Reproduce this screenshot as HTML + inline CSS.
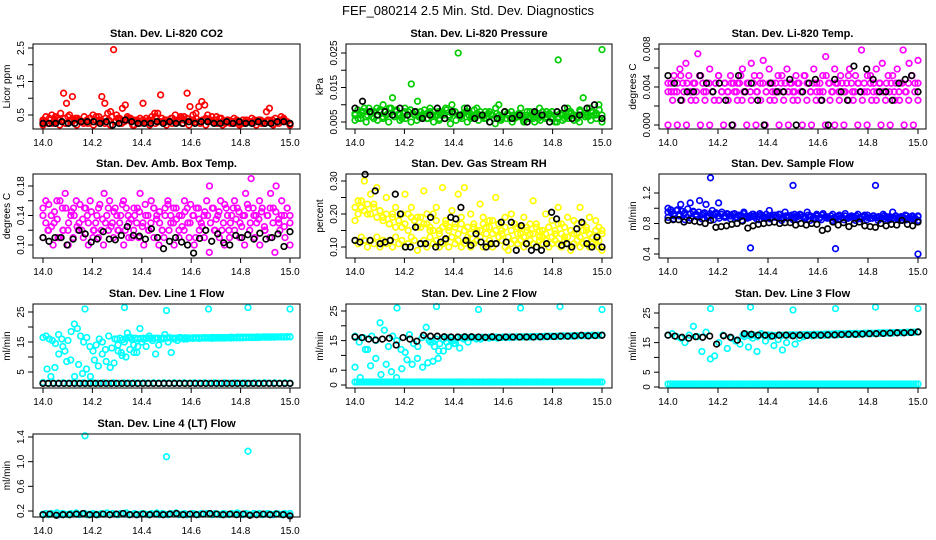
<!DOCTYPE html>
<html><head><meta charset="utf-8"><style>
html,body{margin:0;padding:0;background:#fff;}
svg{display:block;font-family:"Liberation Sans",Arial,sans-serif;}
</style></head><body>
<svg id="chart" width="936" height="540" viewBox="0 0 936 540" xmlns="http://www.w3.org/2000/svg">
<rect width="936" height="540" fill="#fff"/>
<text x="468" y="15" text-anchor="middle" font-size="13">FEF_080214  2.5 Min. Std. Dev. Diagnostics</text>
</svg>
<script>
// ---------- data ----------
const xTicks = [14.0,14.2,14.4,14.6,14.8,15.0];
const co2Red = [0.3,0.45,0.25,0.5,0.35,0.4,0.55,1.15,0.85,0.5,1.05,0.4,0.35,0.3,0.45,0.3,0.4,0.5,0.35,0.45,1.05,0.85,0.55,0.6,2.45,0.5,0.4,0.7,0.8,0.4,0.3,0.2,0.35,0.4,0.85,0.3,0.35,0.45,0.55,0.55,1.1,0.3,0.35,0.3,0.4,0.5,0.35,0.4,0.45,1.15,0.75,0.5,0.55,0.75,0.9,0.8,0.5,0.35,0.3,0.45,0.4,0.3,0.25,0.35,0.3,0.4,0.3,0.25,0.35,0.3,0.3,0.4,0.35,0.3,0.35,0.3,0.6,0.7,0.35,0.4,0.3,0.45,0.35,0.3,0.2];
const co2RedLow = [0.2,0.25,0.3,0.2,0.25,0.35,0.2,0.3,0.25,0.2,0.3,0.25,0.2,0.3,0.25,0.35,0.2,0.25,0.3,0.2,0.25,0.3,0.2,0.25,0.3,0.25,0.2,0.3,0.25,0.2,0.3,0.25,0.2,0.3,0.25,0.2,0.25,0.3,0.2,0.25,0.3,0.2,0.25,0.3,0.2];
const co2RedMid = [0.35,0.3,0.4,0.25,0.45,0.35,0.3,0.4,0.45,0.3,0.35,0.4,0.3,0.25,0.35,0.4,0.3,0.45,0.35,0.3,0.4,0.35,0.45,0.3,0.4,0.35,0.3,0.45,0.4,0.35,0.3,0.25,0.35,0.4,0.3,0.35,0.45,0.3,0.4,0.35,0.3,0.4,0.35,0.3,0.45,0.35,0.4,0.3,0.35,0.4,0.3,0.35,0.4,0.3,0.45,0.35,0.3,0.4,0.3,0.35,0.25,0.3,0.35,0.3,0.25,0.35,0.3,0.25,0.3,0.35,0.3,0.25,0.35,0.3,0.25,0.3,0.35,0.4,0.3,0.25];
const co2Black = [0.25,0.25,0.25,0.3,0.25,0.25,0.3,0.3,0.3,0.25,0.3,0.2,0.25,0.35,0.3,0.25,0.25,0.25,0.3,0.25,0.3,0.25,0.25,0.3,0.25,0.3,0.3,0.25,0.25,0.3,0.25,0.3,0.25,0.25,0.3,0.25,0.25,0.3,0.3,0.25];
const presGreen = [0.007,0.006,0.008,0.009,0.007,0.008,0.006,0.009,0.008,0.01,0.007,0.009,0.012,0.008,0.007,0.006,0.009,0.008,0.016,0.007,0.011,0.008,0.007,0.006,0.009,0.008,0.007,0.006,0.008,0.009,0.007,0.01,0.008,0.025,0.007,0.009,0.008,0.006,0.007,0.009,0.008,0.007,0.006,0.008,0.007,0.009,0.01,0.006,0.008,0.007,0.008,0.006,0.007,0.009,0.005,0.007,0.008,0.006,0.007,0.009,0.008,0.006,0.007,0.008,0.005,0.023,0.007,0.006,0.009,0.008,0.007,0.006,0.008,0.012,0.007,0.009,0.008,0.007,0.01,0.026];
const presGreenLow = [0.0055,0.006,0.005,0.0065,0.0055,0.006,0.005,0.0065,0.0055,0.006,0.005,0.0055,0.0065,0.006,0.005,0.0055,0.006,0.0045,0.0055,0.006,0.005,0.0065,0.0055,0.006,0.005,0.0045,0.0055,0.006,0.005,0.0065,0.0055,0.006,0.005,0.0055,0.0065,0.006,0.005,0.0055,0.006,0.0055,0.005,0.0065,0.0055,0.006,0.005];
const presGreenMid = [0.0075,0.0085,0.007,0.008,0.0065,0.009,0.0075,0.008,0.007,0.0085,0.0065,0.008,0.0075,0.009,0.007,0.0085,0.0075,0.0065,0.008,0.007,0.0085,0.0075,0.008,0.0065,0.007,0.0085,0.0075,0.008,0.007,0.0065,0.008,0.0075,0.007,0.0085,0.0065,0.0075,0.008,0.007,0.0065,0.0075,0.008,0.007,0.0065,0.0085,0.0075,0.007,0.0065,0.008,0.0075,0.007,0.006,0.0075,0.007,0.0065,0.008,0.0075,0.006,0.007,0.0065,0.0075,0.007,0.006,0.008,0.0065,0.007,0.0075,0.006,0.0065,0.007,0.008,0.0075,0.0065,0.007,0.006,0.0075,0.007,0.0065,0.008,0.0075,0.007,0.0065,0.0085,0.007,0.0075,0.0065,0.008,0.007,0.0075,0.0085,0.007];
const presBlack = [0.009,0.011,0.008,0.007,0.008,0.007,0.009,0.007,0.008,0.006,0.007,0.009,0.006,0.008,0.007,0.009,0.006,0.007,0.005,0.006,0.008,0.006,0.007,0.005,0.008,0.007,0.005,0.008,0.009,0.006,0.007,0.009,0.01,0.006];
const tempMagA = [0.0035,0.0044,0.0052,0.0035,0.0059,0.0044,0.0065,0.0052,0.0035,0.0044,0.0075,0.0052,0.0035,0.0044,0.0059,0.0035,0.0044,0.0052,0.0035,0.0044,0.0035,0.0052,0.0044,0.0035,0.0044,0.0059,0.0035,0.0044,0.0065,0.0052,0.0035,0.0044,0.0068,0.0035,0.0059,0.0044,0.0035,0.0052,0.0044,0.0035,0.0059,0.0044,0.0035,0.0052,0.0044,0.0035,0.0052,0.0044,0.0035,0.0059,0.0044,0.0035,0.0052,0.0072,0.0044,0.0035,0.0059,0.0044,0.0052,0.0035,0.0044,0.0059,0.0035,0.0052,0.0044,0.0079,0.0035,0.0052,0.0044,0.0035,0.0059,0.0044,0.0065,0.0035,0.0052,0.0044,0.0035,0.0059,0.0044,0.0079,0.0035,0.0065,0.0052,0.0044,0.0068];
const tempMagC = [0.0044,0.0035,0.0035,0.0044,0.0052,0.0035,0.0044,0.0035,0.0044,0.0035,0.0052,0.0044,0.0035,0.0044,0.0035,0.0044,0.0052,0.0035,0.0044,0.0035,0.0044,0.0035,0.0044,0.0052,0.0035,0.0044,0.0035,0.0044,0.0035,0.0052,0.0044,0.0035,0.0044,0.0035,0.0044,0.0035,0.0052,0.0044,0.0035,0.0044,0.0035,0.0044,0.0035,0.0052,0.0044,0.0035,0.0044,0.0035,0.0044,0.0035,0.0052,0.0044,0.0035,0.0044,0.0035,0.0044,0.0035,0.0052,0.0044,0.0035,0.0044,0.0035,0.0044,0.0035,0.0052,0.0044,0.0035,0.0044,0.0035,0.0044,0.0035,0.0052,0.0044,0.0035,0.0044,0.0035,0.0044,0.0052,0.0035,0.0044];
const tempMagB = [0,0.0026,0,0.0026,0,0.0026,0.0026,0,0.0026,0,0.0026,0.0026,0,0.0026,0,0.0026,0.0026,0,0.0026,0,0.0026,0,0.0026,0.0026,0,0.0026,0,0.0026,0.0026,0,0.0026,0,0.0026,0.0026,0,0.0026,0,0.0026,0,0.0026,0.0026,0,0.0026,0,0.0026,0.0026,0,0.0026,0,0.0026,0.0026,0,0.0026,0,0.0026];
const tempBlack = [0.0052,0.0044,0.0026,0.0035,0.0035,0.0052,0.0044,0.0035,0.0044,0.0026,0.0,0.0052,0.0035,0.0044,0.0026,0.0,0.0044,0.0035,0.0035,0.0048,0.0,0.0035,0.0044,0.0048,0.0026,0.0,0.0048,0.0035,0.0026,0.0062,0.0035,0.0059,0.0048,0.0035,0.0035,0.0026,0.0044,0.0048,0.0052,0.0035];
const ambMag = [0.15,0.16,0.12,0.14,0.13,0.16,0.11,0.15,0.17,0.12,0.14,0.15,0.16,0.13,0.12,0.15,0.14,0.16,0.11,0.13,0.15,0.12,0.17,0.14,0.16,0.13,0.15,0.12,0.14,0.16,0.15,0.13,0.11,0.14,0.15,0.17,0.13,0.14,0.12,0.16,0.15,0.14,0.13,0.12,0.15,0.16,0.14,0.13,0.15,0.12,0.14,0.16,0.15,0.13,0.14,0.11,0.15,0.13,0.14,0.16,0.18,0.15,0.12,0.14,0.16,0.13,0.15,0.12,0.14,0.16,0.15,0.13,0.14,0.17,0.15,0.19,0.14,0.13,0.16,0.15,0.12,0.14,0.17,0.15,0.18,0.13,0.16,0.14,0.15,0.13];
const ambMag2 = [0.14,0.13,0.155,0.125,0.145,0.135,0.16,0.12,0.15,0.13,0.145,0.14,0.125,0.155,0.135,0.15,0.13,0.145,0.12,0.14,0.155,0.135,0.13,0.15,0.125,0.145,0.14,0.13,0.155,0.12,0.14,0.135,0.15,0.13,0.145,0.125,0.155,0.14,0.13,0.15,0.135,0.145,0.12,0.14,0.155,0.13,0.15,0.135,0.14,0.125,0.145,0.13,0.155,0.14,0.15,0.135,0.125,0.145,0.14,0.13,0.15,0.135,0.145,0.12,0.155,0.14,0.13,0.15,0.135,0.145,0.125,0.14,0.155,0.13,0.15,0.14,0.135,0.145,0.125,0.14,0.15,0.13,0.145,0.135,0.14,0.125,0.15,0.14];
const ambMagLow = [0.11,0.12,0.1,0.11,0.12,0.1,0.11,0.12,0.11,0.1,0.12,0.11,0.1,0.12,0.11,0.12,0.1,0.11,0.12,0.11,0.1,0.12,0.11,0.1,0.11,0.12,0.1,0.11,0.12,0.11,0.1,0.12,0.11,0.09,0.12,0.11,0.1,0.11,0.12,0.11,0.1,0.12,0.11,0.1,0.12,0.11,0.09,0.12,0.11,0.1];
const ambBlack = [0.11,0.105,0.11,0.11,0.10,0.108,0.12,0.115,0.104,0.108,0.118,0.108,0.107,0.113,0.125,0.113,0.112,0.108,0.122,0.11,0.095,0.105,0.11,0.104,0.10,0.089,0.109,0.12,0.105,0.115,0.103,0.10,0.113,0.11,0.114,0.108,0.116,0.108,0.11,0.115,0.098,0.118];
const rhYellow = [0.18,0.24,0.22,0.3,0.2,0.26,0.23,0.28,0.21,0.19,0.25,0.17,0.2,0.22,0.18,0.16,0.26,0.2,0.22,0.18,0.19,0.16,0.27,0.17,0.15,0.2,0.22,0.15,0.28,0.18,0.16,0.21,0.17,0.26,0.19,0.28,0.16,0.2,0.17,0.15,0.23,0.19,0.16,0.18,0.14,0.25,0.17,0.15,0.19,0.13,0.2,0.17,0.16,0.14,0.19,0.16,0.14,0.24,0.17,0.15,0.13,0.2,0.16,0.18,0.14,0.22,0.17,0.13,0.19,0.15,0.18,0.14,0.22,0.17,0.15,0.19,0.13,0.18,0.16,0.15];
const rhYellowMid = [0.22,0.2,0.24,0.21,0.23,0.2,0.22,0.19,0.21,0.18,0.2,0.17,0.19,0.16,0.18,0.2,0.17,0.15,0.19,0.18,0.16,0.19,0.17,0.2,0.16,0.15,0.18,0.14,0.16,0.17,0.15,0.13,0.16,0.14,0.17,0.15,0.13,0.14,0.16,0.12,0.15,0.17,0.14,0.16,0.18,0.15,0.17,0.14,0.16,0.13,0.15,0.17,0.14,0.16,0.13,0.15,0.17,0.14,0.16,0.13,0.15,0.14,0.16,0.13,0.15,0.17,0.14,0.16,0.13,0.15,0.14,0.17,0.13,0.15,0.16,0.14,0.13,0.15,0.12,0.14];
const rhYellowLow = [0.12,0.11,0.13,0.12,0.1,0.12,0.11,0.13,0.1,0.12,0.11,0.12,0.1,0.13,0.11,0.12,0.1,0.11,0.13,0.12,0.09,0.11,0.12,0.1,0.13,0.11,0.12,0.1,0.11,0.12,0.1,0.13,0.11,0.12,0.1,0.11,0.12,0.1,0.11,0.12,0.13,0.1,0.11,0.12,0.1,0.11,0.13,0.12,0.1,0.09,0.11,0.12,0.11,0.12,0.1,0.11,0.12,0.11,0.1,0.12,0.11,0.12,0.1,0.11,0.12,0.11,0.1,0.12,0.11,0.09,0.11,0.12,0.1,0.11,0.12,0.1,0.11,0.12,0.1,0.09];
const rhBlack = [0.12,0.115,0.32,0.12,0.27,0.11,0.115,0.12,0.26,0.2,0.1,0.1,0.16,0.11,0.11,0.19,0.1,0.115,0.125,0.19,0.185,0.22,0.12,0.105,0.14,0.115,0.1,0.11,0.11,0.175,0.115,0.175,0.09,0.165,0.11,0.09,0.1,0.09,0.11,0.205,0.185,0.105,0.11,0.1,0.155,0.175,0.11,0.1,0.13,0.1];
const sampBlue = [1.0,0.95,0.9,0.98,1.05,0.92,0.88,1.07,0.95,0.9,1.1,0.93,1.05,0.9,0.97,0.92,1.07,0.95,0.88,0.92,0.9,0.93,0.87,0.91,0.95,0.88,0.9,0.92,0.86,0.93,0.9,0.88,0.97,0.91,0.89,0.92,0.87,0.95,0.9,0.88,0.92,0.89,0.91,0.87,0.95,0.9,0.86,0.92,0.88,0.93,0.89,0.87,0.92,0.86,0.9,0.88,0.93,0.87,0.9,0.88,0.92,0.86,0.89,0.91,0.87,0.9,0.88,0.86,0.92,0.89,0.87,0.95,0.9,0.86,0.88,0.91,0.87,0.89,0.86,0.9];
const sampBlueMid = [0.95,0.98,0.93,0.97,0.92,0.96,0.94,0.99,0.93,0.96,0.92,0.95,0.91,0.94,0.9,0.93,0.91,0.94,0.9,0.92,0.89,0.93,0.9,0.92,0.88,0.91,0.89,0.93,0.9,0.88,0.92,0.9,0.89,0.91,0.88,0.92,0.9,0.88,0.91,0.89,0.92,0.88,0.9,0.89,0.91,0.88,0.9,0.92,0.89,0.87,0.91,0.89,0.88,0.9,0.87,0.91,0.89,0.88,0.9,0.87,0.89,0.91,0.88,0.9,0.87,0.89,0.88,0.9,0.87,0.89,0.91,0.88,0.87,0.9,0.88,0.89,0.87,0.9,0.88,0.89,0.87,0.9,0.88,0.89,0.87,0.9,0.88,0.9,0.87,0.89];
const sampBlueLow = [0.88,0.86,0.9,0.85,0.87,0.89,0.86,0.88,0.85,0.87,0.9,0.86,0.88,0.84,0.87,0.89,0.85,0.87,0.86,0.88,0.84,0.87,0.85,0.86,0.88,0.84,0.86,0.85,0.87,0.84,0.86,0.85,0.88,0.84,0.86,0.85,0.87,0.84,0.86,0.85,0.87,0.84,0.85,0.86,0.84];
const sampBlack = [0.84,0.85,0.85,0.82,0.84,0.83,0.82,0.8,0.84,0.75,0.76,0.77,0.79,0.8,0.83,0.74,0.77,0.79,0.8,0.81,0.82,0.8,0.81,0.81,0.78,0.8,0.78,0.8,0.79,0.71,0.73,0.82,0.78,0.81,0.76,0.8,0.82,0.77,0.76,0.75,0.8,0.77,0.79,0.78,0.84,0.79,0.77,0.82];
const l1CyanHi = [16.5,17,16,15.5,14.5,17.5,16,12,15.5,18.5,21,19.5,17,15,16.5,13.5,12,14,16,15,12.5,17,13,16,14,11.5,15,18,16.5,14,11.5,19.5,16,13.5,17,15.5,11,14,16,17.5,15,11.5,16,15.5,16.5,16,16,16.3,16.2,16.3,16.2,16.3,16.3,16.3,16.2,16.3,16.3,16.3,16.3,16.4,16.3,16.4,16.4,16.4,16.4,16.5,16.5,16.5,16.5,16.5,16.6,16.6,16.6,16.6,16.6,16.7,16.7,16.7,16.7,16.7];
const l1CyanFlat = [16,16.3,15.8,16.2,16.5,15.9,16.3,16.1,16.2,16.3,16.2,16.3,16.2,16.3,16.3,16.2,16.3,16.3,16.4,16.3,16.3,16.4,16.3,16.4,16.4,16.3,16.4,16.4,16.4,16.4,16.5,16.4,16.5,16.5,16.5,16.5,16.5,16.5,16.5,16.6,16.5,16.6,16.6,16.6,16.6,16.6,16.6,16.6,16.7,16.6,16.7,16.7,16.7,16.7,16.7,16.7,16.7,16.7,16.8,16.8];
const l1CyanNoise = [1.5,6,3.5,6.5,11,13.5,8.5,9,3.5,7.5,4.5,6,3.5,9,7,11,8.5,6.5,8,12,10.5,10,12.5,11.5,13.5,15];
const l1CyanOutX = [14.17,14.33,14.5,14.67,14.83,15.0];
const l1CyanOutY = [26,26.5,25.5,26,26.5,26];
const l1CyanLow = [1.4,1.3,1.4,1.3,1.4,1.3,1.4,1.3,1.4,1.3,1.4,1.3,1.4,1.3,1.4,1.3,1.4,1.3,1.4,1.3,1.4,1.3,1.4,1.3,1.4,1.3,1.4,1.3,1.4,1.3,1.4,1.3,1.4,1.3,1.4,1.3,1.4,1.3,1.4,1.3,1.4,1.3,1.4,1.3,1.4,1.3,1.4,1.3,1.4,1.3];
const l1Black = [1.2,1.2,1.2,1.2,1.2,1.2,1.2,1.2,1.2,1.2,1.2,1.2,1.2,1.2,1.2,1.2,1.2,1.2,1.2,1.2,1.2,1.2,1.2,1.2,1.2,1.2,1.2,1.2,1.2,1.2,1.2,1.2,1.2,1.2,1.2,1.2,1.2,1.2,1.2,1.2,1.2,1.2,1.2,1.2,1.2,1.2,1.2,1.2];
const l2CyanHi = [16.5,14.5,16,12,16.5,15,21,18.5,13,16.5,15,12,11,17,14,13,16,19.5,14.5,13,11.5,15.5,16,15,14,12.5,15.5,14.5,16,15.5,15.5,16,15.8,16,15.8,16,16,16,16.1,16.2,16.2,16.2,16.2,16.3,16.3,16.3,16.3,16.4,16.4,16.4,16.5,16.5,16.5,16.6,16.6,16.7,16.7,16.8,16.8,16.9];
const l2CyanFlat = [15,14.5,15.5,14,15.5,14.5,16,15,15.8,16,15.7,16,15.9,16,16,16.1,16,16.1,16.1,16.2,16.1,16.2,16.2,16.2,16.2,16.3,16.3,16.3,16.3,16.4,16.4,16.4,16.4,16.5,16.5,16.5,16.5,16.6,16.6,16.6,16.6,16.7,16.7,16.7,16.7,16.8,16.8,16.8,16.8,16.9];
const l2CyanNoise = [6,2.5,12,6.5,9,3.5,7,4.5,2.5,5.5,8.5,7,9,6,7.5,8,9,11.5,13,14];
const l2CyanOutX = [14.17,14.33,14.5,14.67,14.83,15.0];
const l2CyanOutY = [26,26.5,25.5,26,26.5,25.5];
const l2CyanLow = [1,1,1,1,1,1,1,1,1,1,1,1,1,1,1,1,1,1,1,1,1,1,1,1,1,1,1,1,1,1,1,1,1,1,1,1,1,1,1,1,1,1,1,1,1,1,1,1,1,1,1,1,1,1,1,1,1,1,1,1,1,1,1,1,1,1,1,1,1,1,1,1,1,1,1,1,1,1,1,1,1,1,1,1,1,1,1,1,1,1,1,1,1,1,1,1,1,1,1,1,1,1,1,1,1,1,1,1,1,1];
const l2Black = [16.2,16,15.5,15.2,15.5,15.8,13.5,16,15.5,14.8,16.8,16.5,16.5,16.3,16.2,16.2,16.3,16.3,16.2,16.1,16.3,16,16.2,16.2,16.2,16.2,16.2,16.3,16.4,16.4,16.5,16.5,16.6,16.8,16.6,16.7,16.8];
const l3CyanHi = [17.5,18,17,16.5,15,17.5,20.5,17,12,18.5,9.5,10.5,15,17.5,13,16.5,15.5,14.5,17,13.5,16.5,12,18,15.5,17,14,16,12.5,15,17.5,14.5,16.5,17,17.5,17.3,17.5,17.4,17.5,17.5,17.6,17.6,17.7,17.7,17.8,17.8,17.8,17.9,18,18,18,18.1,18.1,18.2,18.2,18.3,18.3,18.4,18.4,18.5,18.6];
const l3CyanFlat = [17.5,17.8,17.2,17.6,17,17.8,17.3,17.6,17.5,17.4,17.6,17.5,17.6,17.6,17.7,17.6,17.7,17.7,17.8,17.7,17.8,17.8,17.8,17.9,17.9,17.9,18,18,18,18,18.1,18.1,18.1,18.1,18.2,18.2,18.2,18.2,18.3,18.3,18.3,18.3,18.4,18.4,18.4,18.4,18.5,18.5,18.5,18.6];
const l3CyanOutX = [14.17,14.33,14.5,14.67,14.83,15.0];
const l3CyanOutY = [26.5,27,26,26.5,27,26.5];
const l3CyanLow = [1,1,1,1,1,1,1,1,1,1,1,1,1,1,1,1,1,1,1,1,1,1,1,1,1,1,1,1,1,1,1,1,1,1,1,1,1,1,1,1,1,1,1,1,1,1,1,1,1,1,1,1,1,1,1,1,1,1,1,1,1,1,1,1,1,1,1,1,1,1,1,1,1,1,1,1,1,1,1,1,1,1,1,1,1,1,1,1,1,1,1,1,1,1,1,1,1,1,1,1,1,1,1,1,1,1,1,1,1,1];
const l3Black = [17.5,17.2,16.8,16.5,17,16.8,17.2,14.5,17.3,16.8,15.8,18,17.8,17.5,17.5,17.2,17.5,17.5,17.3,17.5,17.4,17.5,17.5,17.6,17.6,17.7,17.8,17.8,17.9,18,18,18.1,18.2,18.3,18.3,18.4,18.6];
const l4Cyan = [0.15,0.16,0.14,0.16,0.15,0.17,0.14,0.16,0.15,0.14,0.16,0.15,0.17,0.14,0.15,0.16,0.14,0.15,0.16,0.15,0.14,0.16,0.15,0.17,0.14,0.16,0.15,0.14,0.16,0.15,0.17,0.14,0.15,0.16,0.14,0.15,0.16,0.15,0.14,0.16,0.15,0.17,0.14,0.16,0.15,0.14,0.16,0.15,0.17,0.14,0.15,0.16,0.14,0.15,0.16,0.15,0.14,0.16,0.15,0.16,0.15,0.14,0.16,0.15,0.14,0.16,0.15,0.14,0.16,0.15,0.17,0.15,0.14,0.16,0.15,0.14,0.16,0.15,0.16,0.14,0.15,0.16,0.15,0.14,0.16,0.15,0.14,0.16,0.15,0.16];
const l4CyanOutX = [14.17,14.5,14.83];
const l4CyanOutY = [1.42,1.08,1.17];
const l4Black = [0.14,0.15,0.13,0.14,0.14,0.15,0.16,0.14,0.14,0.15,0.14,0.15,0.16,0.14,0.14,0.15,0.14,0.15,0.14,0.15,0.16,0.14,0.15,0.14,0.15,0.16,0.15,0.14,0.15,0.14,0.15,0.13,0.14,0.15,0.14,0.15,0.14,0.12];

// ---------- layout ----------
const colL=[33,346,659], colR=[300,612,926], colX0=[43,355,668], colX1=[290,602,918];
const rowT=[44,174,304,434], rowB=[129,258,388,517];
const NS='http://www.w3.org/2000/svg';
const svg=document.getElementById('chart');
function mk(tag,attrs,parent){const e=document.createElementNS(NS,tag);for(const k in attrs)e.setAttribute(k,attrs[k]);(parent||svg).appendChild(e);return e;}

const panels=[
 {key:'co2',t:'Stan. Dev. Li-820 CO2',yl:'Licor ppm',c:0,r:0,v0:0.5,p0:115,v1:2.5,p1:48,ticks:[0.5,1,1.5,2,2.5],labs:[[0.5,'0.5'],[1.5,'1.5'],[2.5,'2.5']],
  series:[[co2RedLow,null,'#ff0000'],[co2RedMid,null,'#ff0000'],[co2Red,null,'#ff0000'],[co2Black,null,'#000']]},
 {key:'pressure',t:'Stan. Dev. Li-820 Pressure',yl:'kPa',c:1,r:0,v0:0.005,p0:122,v1:0.025,p1:53,ticks:[0.005,0.01,0.015,0.02,0.025],labs:[[0.005,'0.005'],[0.015,'0.015'],[0.025,'0.025']],
  series:[[presGreenLow,null,'#00cc00'],[presGreenMid,null,'#00cc00'],[presGreen,null,'#00cc00'],[presBlack,null,'#000']]},
 {key:'temp',t:'Stan. Dev. Li-820 Temp.',yl:'degrees C',c:2,r:0,v0:0,p0:125,v1:0.008,p1:49,ticks:[0,0.002,0.004,0.006,0.008],labs:[[0,'0.000'],[0.004,'0.004'],[0.008,'0.008']],
  series:[[tempMagB,null,'#ff00ff'],[tempMagC,null,'#ff00ff'],[tempMagA,null,'#ff00ff'],[tempBlack,null,'#000']]},
 {key:'ambbox',t:'Stan. Dev. Amb. Box Temp.',yl:'degrees C',c:0,r:1,v0:0.10,p0:245,v1:0.18,p1:186,ticks:[0.1,0.12,0.14,0.16,0.18],labs:[[0.1,'0.10'],[0.14,'0.14'],[0.18,'0.18']],
  series:[[ambMagLow,null,'#ff00ff'],[ambMag2,null,'#ff00ff'],[ambMag,null,'#ff00ff'],[ambBlack,null,'#000']]},
 {key:'rh',t:'Stan. Dev. Gas Stream RH',yl:'percent',c:1,r:1,v0:0.10,p0:247,v1:0.30,p1:181,ticks:[0.1,0.15,0.2,0.25,0.3],labs:[[0.1,'0.10'],[0.2,'0.20'],[0.3,'0.30']],
  series:[[rhYellowLow,null,'#ffff00'],[rhYellowMid,null,'#ffff00'],[rhYellow,null,'#ffff00'],[rhBlack,null,'#000']]},
 {key:'sampleflow',t:'Stan. Dev. Sample Flow',yl:'ml/min',c:2,r:1,v0:0.4,p0:254,v1:1.2,p1:193,ticks:[0.4,0.6,0.8,1.0,1.2],labs:[[0.4,'0.4'],[0.8,'0.8'],[1.2,'1.2']],
  series:[[sampBlueLow,null,'#0000ff'],[sampBlueMid,null,'#0000ff'],[sampBlue,null,'#0000ff'],[[1.4,0.48,1.3,0.47,1.3,0.4],[14.17,14.33,14.5,14.67,14.83,15.0],'#0000ff'],[sampBlack,null,'#000']]},
 {key:'line1',t:'Stan. Dev. Line 1 Flow',yl:'ml/min',c:0,r:2,v0:5,p0:372,v1:25,p1:312,ticks:[5,10,15,20,25],labs:[[5,'5'],[15,'15'],[25,'25']],
  series:[[l1CyanLow,null,'#00ffff'],[l1CyanHi,null,'#00ffff'],[l1CyanFlat,'late','#00ffff'],[l1CyanNoise,'early','#00ffff'],[l1CyanOutY,l1CyanOutX,'#00ffff'],[l1Black,null,'#000']]},
 {key:'line2',t:'Stan. Dev. Line 2 Flow',yl:'ml/min',c:1,r:2,v0:0,p0:385,v1:25,p1:311,ticks:[0,5,10,15,20,25],labs:[[0,'0'],[5,'5'],[15,'15'],[25,'25']],
  series:[[l2CyanLow,null,'#00ffff'],[l2CyanHi,null,'#00ffff'],[l2CyanFlat,'late','#00ffff'],[l2CyanNoise,'early','#00ffff'],[l2CyanOutY,l2CyanOutX,'#00ffff'],[l2Black,null,'#000']]},
 {key:'line3',t:'Stan. Dev. Line 3 Flow',yl:'ml/min',c:2,r:2,v0:0,p0:387,v1:25,p1:313,ticks:[0,5,10,15,20,25],labs:[[0,'0'],[5,'5'],[15,'15'],[25,'25']],
  series:[[l3CyanLow,null,'#00ffff'],[l3CyanHi,null,'#00ffff'],[l3CyanFlat,'late','#00ffff'],[l3CyanOutY,l3CyanOutX,'#00ffff'],[l3Black,null,'#000']]},
 {key:'line4',t:'Stan. Dev. Line 4 (LT) Flow',yl:'ml/min',c:0,r:3,v0:0.2,p0:511,v1:1.4,p1:437,ticks:[0.2,0.6,1.0,1.4],labs:[[0.2,'0.2'],[0.6,'0.6'],[1.0,'1.0'],[1.4,'1.4']],
  series:[[l4Cyan,null,'#00ffff'],[l4CyanOutY,l4CyanOutX,'#00ffff'],[l4Black,null,'#000']]}
];

panels.forEach(p=>{
  const L=colL[p.c],R=colR[p.c],T=rowT[p.r],B=rowB[p.r];
  const xs=v=>colX0[p.c]+(v-14)*(colX1[p.c]-colX0[p.c]);
  const ys=v=>p.p0+(v-p.v0)*(p.p1-p.p0)/(p.v1-p.v0);
  const g=mk('g',{});
  
  
  const title=mk('text',{x:(L+R)/2,y:T-7,'text-anchor':'middle','font-size':11,'font-weight':'bold'},g);
  title.textContent=p.t;
  
  
  const yl=mk('text',{x:0,y:0,'text-anchor':'middle','font-size':10,transform:`translate(${L-23},${(T+B)/2}) rotate(-90)`},g);
  yl.textContent=p.yl;
  
  
  const pts=mk('g',{fill:'none','stroke-width':1.7},g);
  
  
  p.series.forEach(s=>{
    const vals=s[0],xv=s[1],col=s[2];
    vals.forEach((v,i)=>{
      let x;
      if(Array.isArray(xv)) x=xv[i];
      else if(xv==='early') x=14+0.4*i/(vals.length-1);
      else if(xv==='late') x=14.3+0.7*i/(vals.length-1);
      else x=14+i/(vals.length-1);
      const c=mk('circle',{cx:xs(x).toFixed(1),cy:ys(v).toFixed(1),r:2.8,stroke:col},pts);
      
      
    });
  });
  const box=mk('rect',{x:L,y:T,width:R-L,height:B-T,fill:'none',stroke:'#000','stroke-width':1},g);
  
  
  const xa=mk('g',{},g);
  
  
  mk('line',{x1:xs(14),x2:xs(15),y1:B,y2:B,stroke:'#000'},xa);
  xTicks.forEach(t=>{
    mk('line',{x1:xs(t),x2:xs(t),y1:B,y2:B+5,stroke:'#000'},xa);
    const tl=mk('text',{x:xs(t),y:B+17,'text-anchor':'middle','font-size':10},xa);
    tl.textContent=t.toFixed(1);
    
    
  });
  const ya=mk('g',{},g);
  
  
  mk('line',{x1:L,x2:L,y1:ys(p.ticks[0]),y2:ys(p.ticks[p.ticks.length-1]),stroke:'#000'},ya);
  p.ticks.forEach(t=>mk('line',{x1:L-5,x2:L,y1:ys(t),y2:ys(t),stroke:'#000'},ya));
  p.labs.forEach(l=>{
    const tl=mk('text',{x:0,y:0,'text-anchor':'middle','font-size':10,transform:`translate(${L-9},${ys(l[0])}) rotate(-90)`},ya);
    tl.textContent=l[1];
    
    
  });
});
</script>
</body></html>
